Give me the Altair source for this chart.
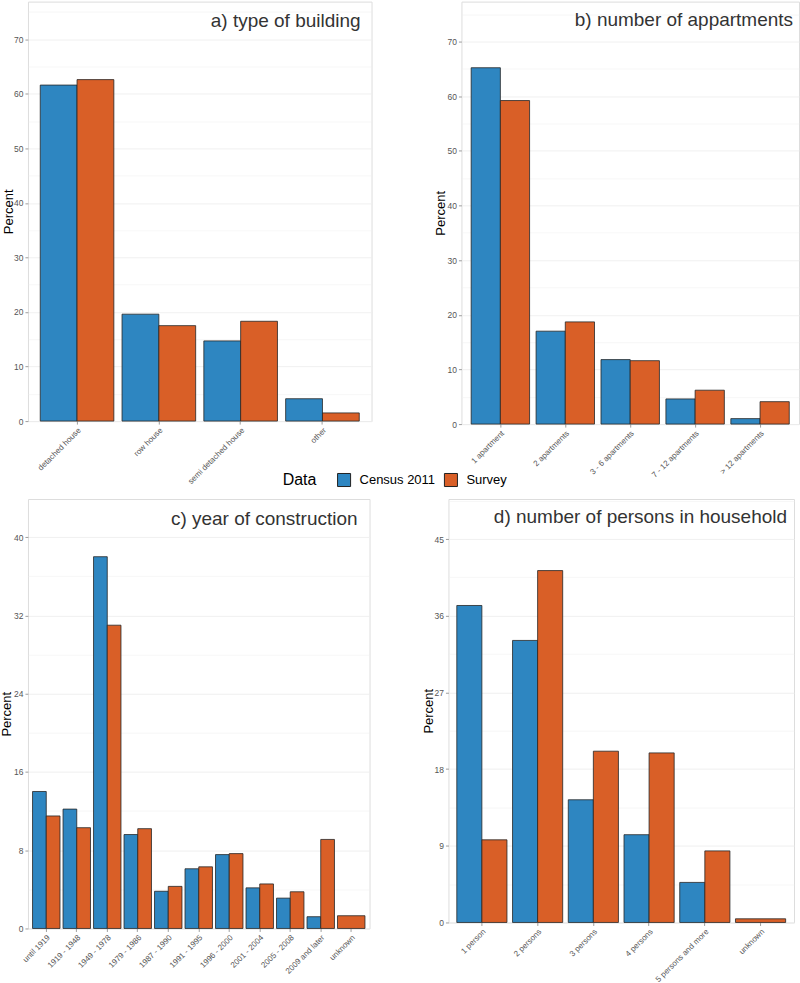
import altair as alt
import pandas as pd

series = ["Census 2011", "Survey"]
colors = ["#2E86C1", "#D95F27"]

a_title = "a) type of building"
a_cats = ["detached house", "row house", "semi detached house", "other"]
a_census = [61.6, 19.6, 14.7, 4.1]
a_survey = [62.6, 17.5, 18.3, 1.5]

b_title = "b) number of appartments"
b_cats = ["1 apartment", "2 apartments", "3 - 6 apartments", "7 - 12 apartments", "> 12 apartments"]
b_census = [65.2, 17.0, 11.8, 4.6, 1.0]
b_survey = [59.2, 18.7, 11.6, 6.2, 4.1]

c_title = "c) year of construction"
c_cats = ["until 1919", "1919 - 1948", "1949 - 1978", "1979 - 1986", "1987 - 1990",
          "1991 - 1995", "1996 - 2000", "2001 - 2004", "2005 - 2008", "2009 and later", "unknown"]
c_census = [14.0, 12.2, 38.0, 9.6, 3.8, 6.1, 7.55, 4.15, 3.1, 1.2, None]
c_survey = [11.5, 10.3, 31.0, 10.2, 4.3, 6.3, 7.65, 4.55, 3.75, 9.1, 1.3]

d_title = "d) number of persons in household"
d_cats = ["1 person", "2 persons", "3 persons", "4 persons", "5 persons and more", "unknown"]
d_census = [37.2, 33.1, 14.4, 10.3, 4.7, None]
d_survey = [9.7, 41.3, 20.1, 19.9, 8.4, 0.43]

FONT = "Liberation Sans"
GRID = "#EEEEEE"
TXT = "#555555"

color_enc = alt.Color(
    "Data:N",
    scale=alt.Scale(domain=series, range=colors),
    legend=alt.Legend(
        orient="none", legendX=255, legendY=471, direction="horizontal",
        titleOrient="left", title="Data", titleFontSize=16, titleFont=FONT,
        titleFontWeight="normal", titleColor="black", titlePadding=20,
        labelFontSize=13, labelFont=FONT, labelColor="black",
        symbolType="square", symbolSize=170, symbolStrokeColor="#222222",
        symbolStrokeWidth=1, symbolOpacity=1, columnPadding=6, labelOffset=8,
    ),
)


def make_df(cats, census, survey):
    rows = []
    for i, c in enumerate(cats):
        vals = [census[i], survey[i]]
        n = sum(v is not None for v in vals)
        for s, v in zip(series, vals):
            if v is not None:
                rows.append({"cat": c, "Data": s, "value": v, "single": n == 1})
    return pd.DataFrame(rows)


def panel(cats, census, survey, title, w, h, top, step, major, title_x, t_inset, t_base):
    df = make_df(cats, census, survey)
    minor_vals = []
    v = 0.0
    while v <= top + 1e-9:
        minor_vals.append(round(v, 3))
        v += step
    is_major = f"abs(datum.value/{major} - round(datum.value/{major})) < 0.01"
    yaxis = alt.Axis(
        values=minor_vals,
        title="Percent", titleFont=FONT, titleFontSize=13, titleFontWeight="normal",
        titleColor="black", titleX=title_x, titleY=h / 2, titleAngle=-90,
        titleAlign="center", titleBaseline="middle",
        labelExpr=f"{is_major} ? datum.label : ''",
        labelFont=FONT, labelFontSize=8.5, labelColor=TXT, labelPadding=2,
        tickColor="#9E9E9E", tickSize=3,
        tickOpacity={"condition": {"test": is_major, "value": 1}, "value": 0},
        gridColor=GRID,
        gridWidth={"condition": {"test": is_major, "value": 0.9}, "value": 0.5},
        domain=False,
    )
    xaxis = alt.Axis(
        title=None, labelAngle=-45, labelAlign="right", labelBaseline="top",
        labelFont=FONT, labelFontSize=8, labelColor=TXT, labelPadding=2,
        labelOverlap=False, labelLimit=300, tickColor="#9E9E9E", tickSize=3,
        gridColor=GRID, gridWidth=0.9, domain=False, bandPosition=0.5,
    )
    xscale = alt.Scale(domain=cats, paddingInner=0.1, paddingOuter=0.15)
    yscale = alt.Scale(domain=[0, top], nice=False, zero=True)
    x = alt.X("cat:N", scale=xscale, axis=xaxis, sort=cats)
    y = alt.Y("value:Q", scale=yscale, axis=yaxis)

    pairs = alt.Chart(df).transform_filter("!datum.single").mark_bar(
        stroke="#262626", strokeWidth=0.8
    ).encode(
        x=x, y=y,
        xOffset=alt.XOffset("Data:N", scale=alt.Scale(domain=series, paddingInner=0, paddingOuter=0)),
        color=color_enc,
    )
    singles = alt.Chart(df).transform_filter("datum.single").mark_bar(
        stroke="#262626", strokeWidth=0.8
    ).encode(x=x, y=y, color=color_enc)
    label = alt.Chart(pd.DataFrame({"t": [title]})).mark_text(
        align="right", baseline="alphabetic", font=FONT, fontSize=19, color="#333333"
    ).encode(text="t:N", x=alt.value(w - t_inset), y=alt.value(t_base))
    return alt.layer(pairs, singles, label).properties(width=w, height=h)


pa = panel(a_cats, a_census, a_survey, a_title, 344, 420, 76.9, 5, 10, -19, 11, 25)
pb = panel(b_cats, b_census, b_survey, b_title, 338, 423, 77.3, 5, 10, -21, 6, 24)
pc = panel(c_cats, c_census, c_survey, c_title, 342, 430, 43.9, 4, 8, -21, 12, 26)
pd_ = panel(d_cats, d_census, d_survey, d_title, 346, 424, 49.7, 4.5, 9, -20, 7, 24)

indep = dict(x="independent", y="independent", xOffset="independent")
row1 = alt.hconcat(pa, pb, spacing=90, bounds="flush").resolve_scale(**indep)
row2 = alt.hconcat(pc, pd_, spacing=79, bounds="flush").resolve_scale(**indep)
chart = alt.vconcat(row1, row2, spacing=12).resolve_scale(**indep).properties(
    padding={"left": 0, "top": 0, "right": 0, "bottom": 0}
).configure_view(
    stroke="#C4C4C4", strokeWidth=1.3, fill="white"
).configure(background="white")

chart.save("out.html", embed_options={"renderer": "svg", "actions": False})
